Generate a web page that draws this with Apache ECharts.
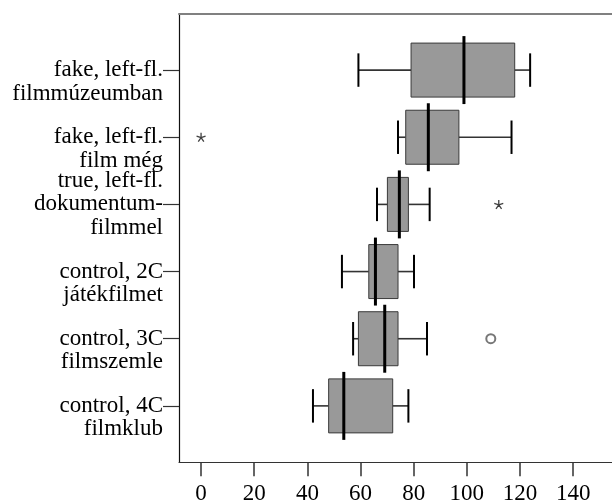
<!DOCTYPE html>
<html>
<head>
<meta charset="utf-8">
<script src="https://cdn.jsdelivr.net/npm/echarts@6/dist/echarts.min.js"></script>
<style>
html,body{margin:0;padding:0;background:#fff;}
#c{width:612px;height:500px;}
</style>
</head>
<body>
<div id="c"></div>
<script>
// ---- data ----
var categories = [
  'fake, left-fl.\nfilmmúzeumban',
  'fake, left-fl.\nfilm még',
  'true, left-fl.\ndokumentum-\nfilmmel',
  'control, 2C\njátékfilmet',
  'control, 3C\nfilmszemle',
  'control, 4C\nfilmklub'
];
var whiskerLow  = [59.2, 74.1, 66.2, 53.0, 57.2, 42.1];
var q1          = [79.0, 77.0, 70.1, 63.1, 59.2, 48.0];
var median      = [98.9, 85.5, 74.6, 65.6, 69.1, 53.7];
var q3          = [118.0, 97.0, 78.0, 74.1, 74.1, 72.1];
var whiskerHigh = [123.8, 116.8, 86.0, 80.1, 85.0, 78.0];
// extreme outliers (star) and outliers (circle): [value, categoryIndex]
var extremes = [[0, 1], [112, 2]];
var outliers = [[109, 4]];
var xTickValues = [0, 20, 40, 60, 80, 100, 120, 140];
var catEven = [0, 2, 4];
var catOdd = [1, 3, 5];

var boxData = categories.map(function (c, i) {
  return [i, whiskerLow[i], q1[i], median[i], q3[i], whiskerHigh[i]];
});

var chart = echarts.init(document.getElementById('c'), null, {renderer: 'canvas'});
var serif = 'Liberation Serif, Times New Roman, serif';

function renderBox(params, api) {
  var i = api.value(0);
  var pLo = api.coord([api.value(1), i]);
  var pQ1 = api.coord([api.value(2), i]);
  var pMed = api.coord([api.value(3), i]);
  var pQ3 = api.coord([api.value(4), i]);
  var pHi = api.coord([api.value(5), i]);
  var y = pLo[1];
  var band = Math.abs(api.size([0, 1])[1]);
  var bh = band * 0.402, mh = band * 0.506, ch = band * 0.249;
  return {
    type: 'group',
    children: [
      {type: 'line', shape: {x1: pLo[0], y1: y, x2: pQ1[0], y2: y}, style: {stroke: '#333', lineWidth: 1.6}},
      {type: 'line', shape: {x1: pQ3[0], y1: y, x2: pHi[0], y2: y}, style: {stroke: '#333', lineWidth: 1.6}},
      {type: 'line', shape: {x1: pLo[0], y1: y - ch, x2: pLo[0], y2: y + ch}, style: {stroke: '#000', lineWidth: 2}},
      {type: 'line', shape: {x1: pHi[0], y1: y - ch, x2: pHi[0], y2: y + ch}, style: {stroke: '#000', lineWidth: 2}},
      {type: 'rect', shape: {x: pQ1[0], y: y - bh, width: pQ3[0] - pQ1[0], height: 2 * bh},
        style: {fill: '#999999', stroke: '#3a3a3a', lineWidth: 1}},
      {type: 'line', shape: {x1: pMed[0], y1: y - mh, x2: pMed[0], y2: y + mh}, style: {stroke: '#000', lineWidth: 3}}
    ]
  };
}

function catLabel(v) {
  var s = categories[Math.round(v)];
  if (s === undefined) return '';
  return s.split('\n').length === 2 ? '\n' + s : s;
}

function makeYAxis(vals, showLine) {
  return {
    type: 'value', inverse: true, min: -0.835, max: 5.84, position: 'left', offset: 0,
    axisLine: {show: showLine, onZero: false, lineStyle: {color: '#111', width: 1.2}},
    axisTick: {show: true, length: 16, customValues: vals, lineStyle: {color: '#333', width: 1.2}},
    axisLabel: {
      customValues: vals, margin: 16, fontFamily: serif, fontSize: 23, lineHeight: 23.5,
      color: '#000', align: 'right', showMinLabel: true, showMaxLabel: true, hideOverlap: false,
      formatter: catLabel
    },
    splitLine: {show: false}
  };
}

var option = {
  animation: false,
  backgroundColor: '#fff',
  grid: {left: 179, top: 14, right: 0, bottom: 37.7, containLabel: false, outerBoundsMode: 'none'},
  xAxis: [{
    type: 'value', min: -8.3, max: 154.6, position: 'bottom',
    axisLine: {show: true, onZero: false, lineStyle: {color: '#333', width: 1}},
    axisTick: {show: true, length: 14, customValues: xTickValues, lineStyle: {color: '#333', width: 1.5}},
    axisLabel: {customValues: xTickValues, fontFamily: serif, fontSize: 23, color: '#000', margin: 20,
      showMinLabel: true, showMaxLabel: true},
    splitLine: {show: false}
  }, {
    type: 'value', min: -8.3, max: 154.6, position: 'top',
    axisLine: {show: true, onZero: false, lineStyle: {color: '#808080', width: 2}},
    axisTick: {show: false}, axisLabel: {show: false}, splitLine: {show: false}
  }],
  yAxis: [makeYAxis(catEven, true), makeYAxis(catOdd, false)],
  series: [{
    type: 'custom',
    renderItem: renderBox,
    encode: {x: [1, 2, 3, 4, 5], y: 0},
    data: boxData,
    z: 2
  }, {
    type: 'scatter',
    data: extremes,
    symbol: 'path://M0,-10L0,0M9.51,-3.09L0,0M5.88,8.09L0,0M-5.88,8.09L0,0M-9.51,-3.09L0,0',
    symbolSize: 9,
    itemStyle: {color: 'rgba(0,0,0,0)', borderColor: '#111', borderWidth: 1.3},
    z: 3
  }, {
    type: 'scatter',
    data: outliers,
    symbol: 'emptyCircle',
    symbolSize: 9,
    itemStyle: {color: '#555', borderColor: '#555', borderWidth: 1.5},
    z: 3
  }]
};
chart.setOption(option);
</script>
</body>
</html>
